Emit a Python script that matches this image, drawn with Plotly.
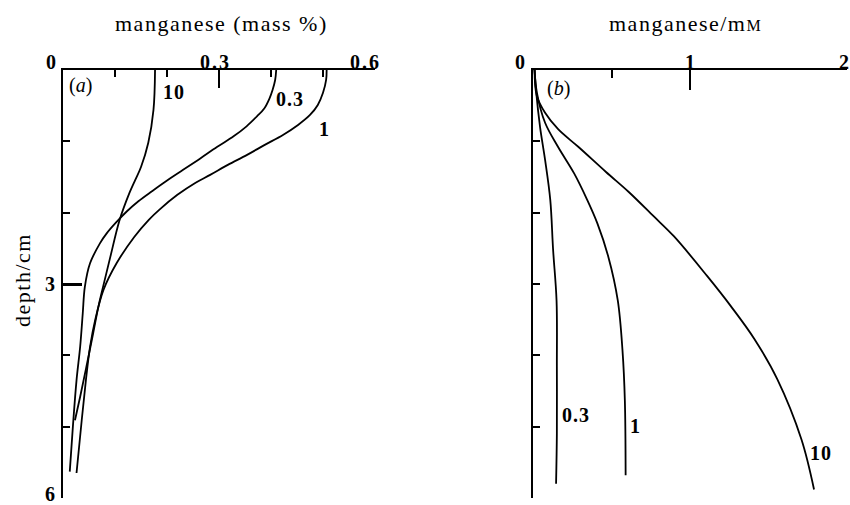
import plotly.graph_objects as go

# Depth profiles of manganese, panel (a): solid phase, mass %
depth_a_03 = [0, 0.14, 0.28, 0.40, 0.54, 0.65, 0.79, 0.93, 1.08, 1.24, 1.40, 1.57, 1.70, 1.84, 1.98,
              2.13, 2.29, 2.43, 2.71, 3.04, 3.41, 3.88, 4.35, 5.00, 5.63]
mn_a_03 = [0.410, 0.408, 0.403, 0.397, 0.387, 0.373, 0.353, 0.328, 0.296, 0.264, 0.231, 0.196, 0.171,
           0.145, 0.123, 0.103, 0.084, 0.071, 0.052, 0.042, 0.038, 0.033, 0.026, 0.019, 0.013]

depth_a_1 = [0, 0.14, 0.32, 0.49, 0.63, 0.77, 0.91, 1.05, 1.19, 1.33, 1.47, 1.58, 1.75, 1.96, 2.10,
             2.34, 2.71, 3.08, 3.50, 3.88, 4.35, 4.91, 5.65]
mn_a_1 = [0.507, 0.506, 0.500, 0.490, 0.475, 0.452, 0.423, 0.388, 0.354, 0.317, 0.283, 0.255, 0.220,
          0.185, 0.165, 0.137, 0.103, 0.078, 0.062, 0.052, 0.044, 0.036, 0.026]

depth_a_10 = [0, 0.56, 1.02, 1.36, 1.54, 1.72, 2.10, 2.62, 3.04, 3.32, 3.69, 4.16, 4.58, 4.91]
mn_a_10 = [0.177, 0.174, 0.164, 0.150, 0.139, 0.128, 0.109, 0.091, 0.077, 0.068, 0.058, 0.045, 0.033, 0.023]

# Panel (b): pore water, mM
depth_b_03 = [0, 0.30, 0.80, 1.26, 1.82, 2.52, 3.23, 4.16, 5.10, 5.80]
mn_b_03 = [0.010, 0.020, 0.045, 0.077, 0.110, 0.128, 0.150, 0.152, 0.152, 0.147]

depth_b_1 = [0, 0.32, 0.74, 1.08, 1.45, 1.82, 2.15, 2.62, 3.23, 3.93, 4.63, 5.68]
mn_b_1 = [0.010, 0.025, 0.077, 0.160, 0.262, 0.345, 0.410, 0.480, 0.540, 0.570, 0.585, 0.590]

depth_b_10 = [0, 0.36, 0.60, 0.83, 1.08, 1.43, 1.71, 2.05, 2.33, 2.89, 3.31, 3.77, 4.33, 5.18, 5.88]
mn_b_10 = [0.010, 0.024, 0.077, 0.160, 0.290, 0.465, 0.610, 0.768, 0.897, 1.110, 1.260, 1.410, 1.555, 1.710, 1.790]

x_ticks_a = [0, 0.3, 0.6]
x_ticks_b = [0, 1, 2]
depth_ticks = [3, 6]

FONT = "Liberation Serif"
W, H = 850, 505
LINE = dict(color="black", width=1.8, shape="spline", smoothing=1.0)

fig = go.Figure()

for xs, ys in [(mn_a_03, depth_a_03), (mn_a_1, depth_a_1), (mn_a_10, depth_a_10)]:
    fig.add_trace(go.Scatter(x=xs, y=ys, mode="lines", line=LINE,
                             xaxis="x", yaxis="y", showlegend=False, hoverinfo="skip"))
for xs, ys in [(mn_b_03, depth_b_03), (mn_b_1, depth_b_1), (mn_b_10, depth_b_10)]:
    fig.add_trace(go.Scatter(x=xs, y=ys, mode="lines", line=LINE,
                             xaxis="x2", yaxis="y2", showlegend=False, hoverinfo="skip"))

y_top = 1 - 70 / H
y_bot = 1 - 498 / H

common_x = dict(side="top", showline=True, linecolor="black", linewidth=1.5, showgrid=False,
                zeroline=False, ticks="inside", tickcolor="black", tickwidth=1.8,
                showticklabels=False)
common_y = dict(showline=True, linecolor="black", linewidth=1.5, showgrid=False, zeroline=False,
                ticks="inside", tickcolor="black", tickwidth=1.8, showticklabels=False,
                range=[6, 0], domain=[y_bot, y_top])

fig.update_layout(
    width=W, height=H, margin=dict(l=0, r=0, t=0, b=0),
    paper_bgcolor="white", plot_bgcolor="white",
    font=dict(family=FONT, color="black"),
    xaxis=dict(common_x, domain=[63 / W, 375 / W], range=[0, 0.6], anchor="y",
               tickvals=[0.3, 0.6], ticklen=18,
               minor=dict(tickvals=[0.1, 0.2, 0.4, 0.5], ticklen=7, ticks="inside",
                          tickcolor="black", tickwidth=1.5)),
    yaxis=dict(common_y, anchor="x", tickvals=[3, 6], ticklen=19, tickwidth=2.5,
               minor=dict(tickvals=[1, 2, 4, 5], ticklen=7, ticks="inside",
                          tickcolor="black", tickwidth=1.5)),
    xaxis2=dict(common_x, domain=[533 / W, 847 / W], range=[0, 2], anchor="y2",
                tickvals=[1, 2], ticklen=20,
                minor=dict(tickvals=[0.5], ticklen=8, ticks="inside",
                           tickcolor="black", tickwidth=1.5)),
    yaxis2=dict(common_y, anchor="x2", tickvals=[6], ticklen=21,
                minor=dict(tickvals=[1, 2, 3, 4, 5], ticklen=7, ticks="inside",
                           tickcolor="black", tickwidth=1.5)),
)

ann = []


def note(**kw):
    kw.setdefault("showarrow", False)
    kw.setdefault("xanchor", "center")
    kw.setdefault("yanchor", "middle")
    ann.append(kw)


def spaced(text, px):
    return f"<span style='letter-spacing:{px}px'>{text}</span>"


tick_font = dict(family=FONT, size=20, color="black")
# top tick labels
for v, shift in zip(x_ticks_a, [-11, -4, -10]):
    note(x=v, y=1 - 62 / H, xref="x", yref="paper", text=spaced(f"<b>{v:g}</b>", 2),
         xshift=shift, font=tick_font)
for v, shift in zip(x_ticks_b, [-13, 0, -3]):
    note(x=v, y=1 - 62 / H, xref="x2", yref="paper", text=f"<b>{v:g}</b>",
         xshift=shift, font=tick_font)
# depth tick labels
for d, shift in zip(depth_ticks, [0, 4]):
    note(x=50 / W, y=d, xref="paper", yref="y", text=f"<b>{d}</b>", yshift=shift,
         font=tick_font)

title_font = dict(family=FONT, size=22, color="black")
note(x=221 / W, y=1 - 23 / H, xref="paper", yref="paper",
     text=spaced("manganese (mass %)", 1.5), font=title_font)
note(x=685 / W, y=1 - 23 / H, xref="paper", yref="paper",
     text=spaced("manganese/m<span style='font-size:16px'>M</span>", 1.5), font=title_font)
note(x=22 / W, y=1 - 280 / H, xref="paper", yref="paper", text=spaced("depth/cm", 1.5),
     textangle=-90, font=title_font)

panel_font = dict(family=FONT, size=20, color="black")
note(x=80 / W, y=1 - 85 / H, xref="paper", yref="paper", text="(<i>a</i>)", font=panel_font)
note(x=558 / W, y=1 - 89 / H, xref="paper", yref="paper", text="(<i>b</i>)", font=panel_font)

lab_font = dict(family=FONT, size=20, color="black")
for text, x, y, xr, yr in [
    ("10", 0.214, 0.31, "x", "y"),
    ("0.3", 0.436, 0.41, "x", "y"),
    ("1", 0.502, 0.83, "x", "y"),
    ("0.3", 0.276, 4.84, "x2", "y2"),
    ("1", 0.655, 4.99, "x2", "y2"),
    ("10", 1.835, 5.37, "x2", "y2"),
]:
    note(x=x, y=y, xref=xr, yref=yr, text=spaced(f"<b>{text}</b>", 1), font=lab_font)

fig.update_layout(annotations=ann)
fig.write_html("out.html")
